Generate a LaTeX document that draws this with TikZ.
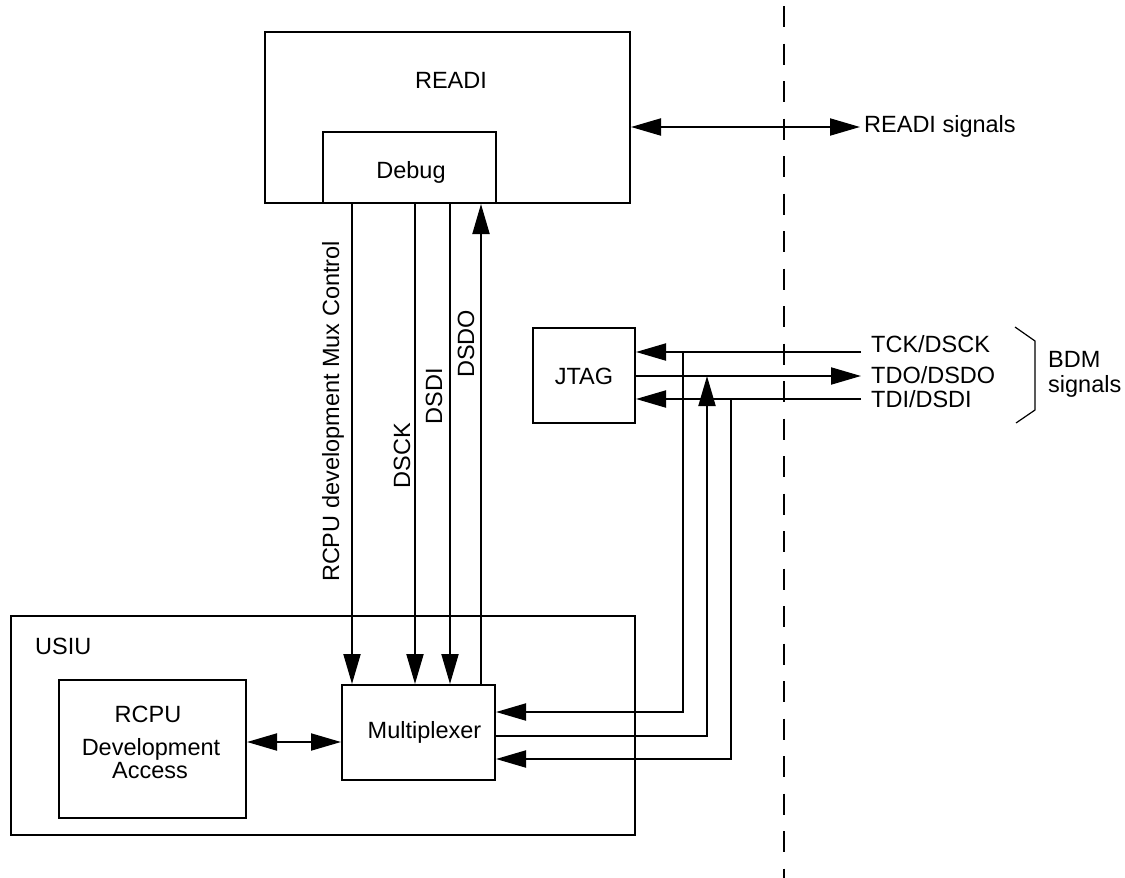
\documentclass[tikz,border=0pt]{standalone}
\usepackage{fontspec}
\setmainfont{Liberation Sans}
\usetikzlibrary{arrows.meta}
\begin{document}
\begin{tikzpicture}[x=1pt,y=-1pt,
  every node/.style={font=\fontsize{23.5}{28}\selectfont, inner sep=0pt},
  box/.style={draw, line width=2pt, rectangle},
  conn/.style={line width=2pt},
  arr/.style={conn, -{Triangle[length=30pt,width=17pt]}},
  darr/.style={conn, {Triangle[length=30pt,width=17pt]}-{Triangle[length=30pt,width=17pt]}},
  lbl/.style={anchor=base},
  dashline/.style={line width=2pt, dash pattern=on 21pt off 16.5pt},
  bracket/.style={line width=1.2pt}]
\useasboundingbox (0,0) rectangle (1125,878);

% boxes
\node[box, minimum width=365pt, minimum height=171pt] (readi) at (447.5,117.5) {};
\node[box, minimum width=173pt, minimum height=71pt] (debug) at (409.5,167.5) {};
\node[box, minimum width=624pt, minimum height=219pt] (usiu) at (323,725.5) {};
\node[box, minimum width=187pt, minimum height=138pt] (rcpu) at (152.5,749) {};
\node[box, minimum width=153pt, minimum height=95pt] (mux) at (418.5,732.5) {};
\node[box, minimum width=102pt, minimum height=95pt] (jtag) at (584,375.5) {};

% box texts
\node[lbl] (readit) at (451,88) {READI};
\node[lbl] (debugt) at (411,178) {Debug};
\node[lbl, anchor=base west] (usiut) at (35,654) {USIU};
\node[lbl] (rcput) at (148,722) {RCPU};
\node[lbl] (devt) at (151,755) {Development};
\node[lbl] (acct) at (150,778) {Access};
\node[lbl] (muxt) at (424.5,738) {Multiplexer};
\node[lbl] (jtagt) at (584,384) {JTAG};

% outside labels
\node[anchor=base west] (readis) at (864,132) {READI signals};
\node[anchor=base west] (tck) at (871,352) {TCK/DSCK};
\node[anchor=base west] (tdo) at (871,383) {TDO/DSDO};
\node[anchor=base west] (tdi) at (871,407) {TDI/DSDI};
\node[anchor=base west] (bdm1) at (1048,367) {BDM};
\node[anchor=base west] (bdm2) at (1048,392) {signals};

% rotated labels
\node[rotate=90] (muxctl) at (333,411.5) {RCPU development Mux Control};
\node[rotate=90] (dsckt) at (402,455.5) {DSCK};
\node[rotate=90] (dsdit) at (434,396.5) {DSDI};
\node[rotate=90] (dsdot) at (466,344) {DSDO};

% vertical connectors Debug <-> Multiplexer
\coordinate (xa) at (352,0);
\coordinate (xb) at (415,0);
\coordinate (xc) at (450,0);
\coordinate (xd) at (481,0);
\draw[arr] (xa |- debug.south) -- (xa |- mux.north);
\draw[arr] (xb |- debug.south) -- (xb |- mux.north);
\draw[arr] (xc |- debug.south) -- (xc |- mux.north);
\draw[arr] (xd |- mux.north) -- (xd |- debug.south);

% RCPU <-> Multiplexer
\coordinate (ya) at (0,742);
\draw[darr] (rcpu.east |- ya) -- (mux.west |- ya);

% READI signals
\coordinate (rs) at (860,127);
\draw[darr] (readi.east |- rs) -- (rs);

% JTAG signals
\coordinate (tckE) at (861,352);
\coordinate (tdoE) at (861,376);
\coordinate (tdiE) at (861,399);
\draw[arr] (tckE) -- (jtag.east |- tckE);
\draw[arr] (jtag.east |- tdoE) -- (tdoE);
\draw[arr] (tdiE) -- (jtag.east |- tdiE);

\coordinate (b1) at (683,352);
\coordinate (b2) at (707,376);
\coordinate (b3) at (731,399);
\coordinate (m1) at (0,712);
\coordinate (m2) at (0,736);
\coordinate (m3) at (0,759);
\draw[arr] (b1) |- (mux.east |- m1);
\draw[arr] (mux.east |- m2) -| (b2);
\draw[arr] (b3) |- (mux.east |- m3);

% dashed boundary
\coordinate (dtop) at (783.5,6);
\coordinate (dbot) at (783.5,878);
\draw[dashline] (dtop) -- (dbot);

% bracket
\draw[bracket] (1015,327) -- (1035,341) -- (1035,410) -- (1016,423);
\end{tikzpicture}
\end{document}
